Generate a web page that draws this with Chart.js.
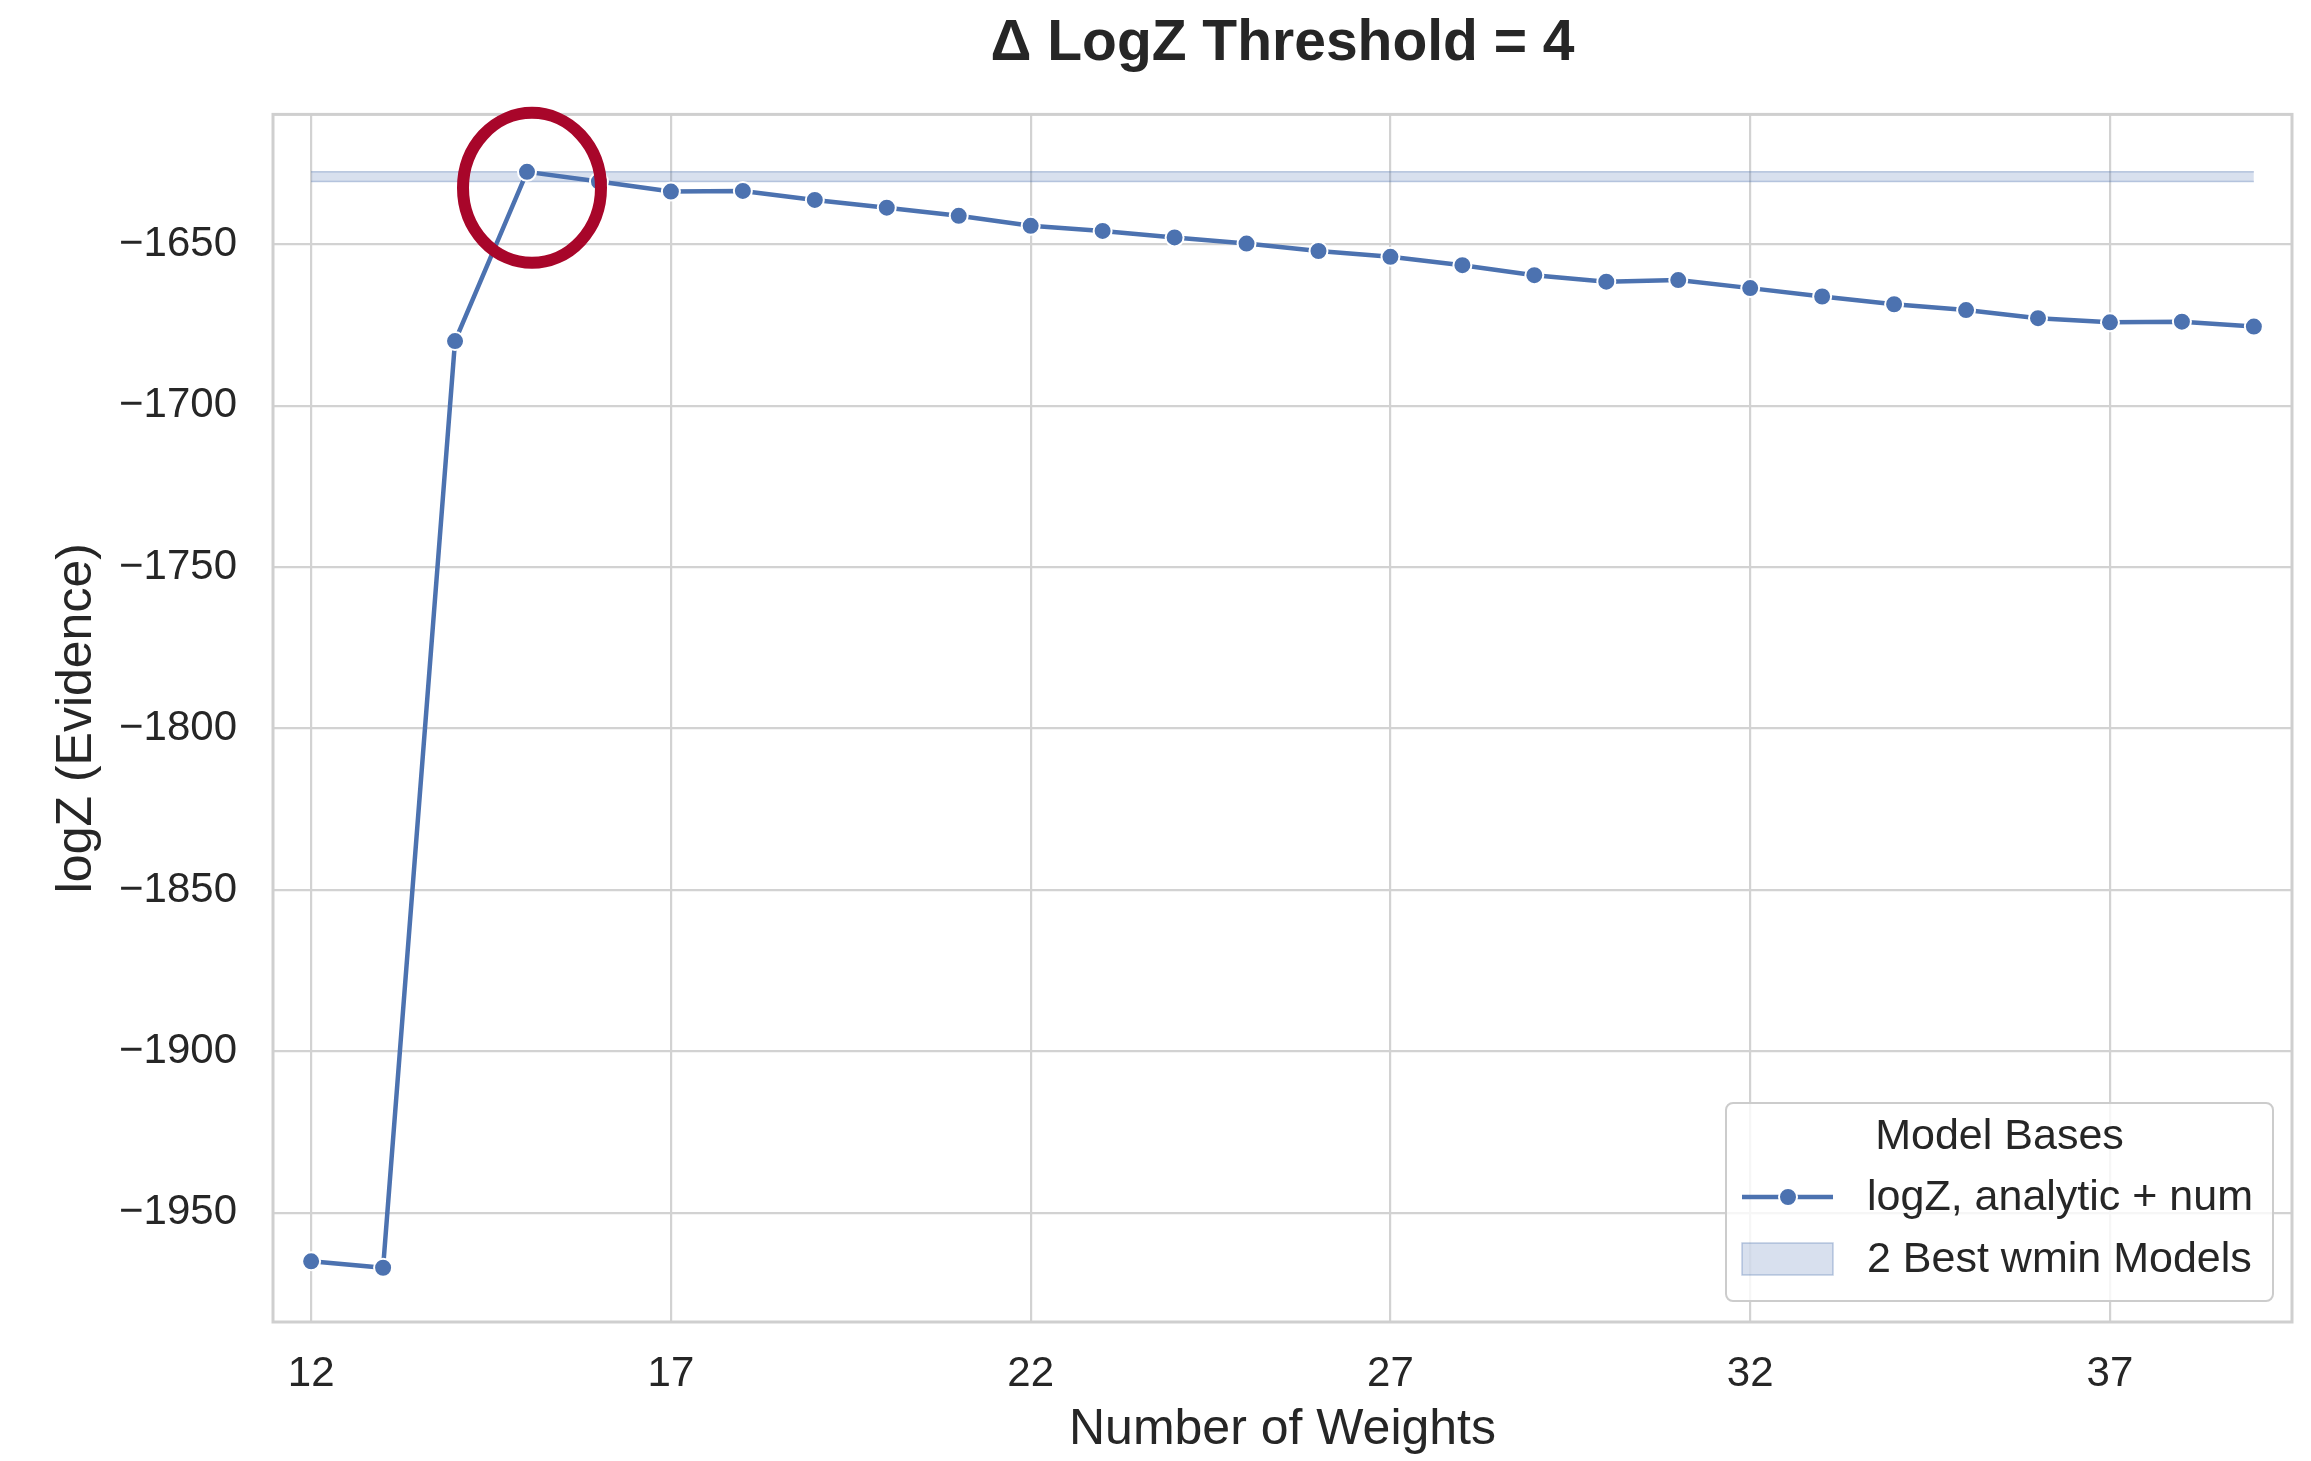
<!DOCTYPE html>
<html>
<head>
<meta charset="utf-8">
<title>Δ LogZ Threshold = 4</title>
<script src="https://cdn.jsdelivr.net/npm/chart.js@4.4.0/dist/chart.umd.min.js"></script>
<style>
  html, body { margin: 0; padding: 0; background: #fff; }
  canvas { display: block; }
</style>
</head>
<body>
<canvas id="evidenceChart" width="2311" height="1461"></canvas>
<script>
// number of weights in each model basis and the evidence it reached
const weights = [12, 13, 14, 15, 16, 17, 18, 19, 20, 21, 22, 23, 24, 25,
                 26, 27, 28, 29, 30, 31, 32, 33, 34, 35, 36, 37, 38, 39];
const logZ = [-1965.0, -1967.0, -1680.0, -1627.6, -1630.6, -1633.7, -1633.5,
              -1636.3, -1638.7, -1641.2, -1644.3, -1645.9, -1647.9, -1649.8,
              -1652.1, -1653.9, -1656.5, -1659.6, -1661.6, -1661.1, -1663.6,
              -1666.2, -1668.6, -1670.4, -1672.9, -1674.2, -1674.0, -1675.5];
const xTicks = [12, 17, 22, 27, 32, 37];
const yTicks = [-1950, -1900, -1850, -1800, -1750, -1700, -1650];

const blue = '#4c72b0';
const bandFill = 'rgba(76, 114, 176, 0.22)';
const bandEdge = 'rgba(76, 114, 176, 0.35)';
const ink = '#262626';
const gridColor = '#d2d2d2';
const family = "'Liberation Sans', Arial, sans-serif";

// band between the two best models, spanning the whole weight range
const best = [...logZ].sort((a, b) => b - a).slice(0, 2);
const bandTop = best[0];
const bandBottom = best[1];
const wFirst = weights[0];
const wLast = weights[weights.length - 1];

const series = weights.map((w, i) => ({ x: w, y: logZ[i] }));

// light frame round the plot, like the seaborn whitegrid spines
const frame = {
  id: 'frame',
  beforeDatasetsDraw(chart) {
    const { ctx, chartArea: a } = chart;
    ctx.save();
    ctx.strokeStyle = '#cfcfcf';
    ctx.lineWidth = 3;
    ctx.strokeRect(a.left, a.top, a.right - a.left, a.bottom - a.top);
    ctx.restore();
  }
};

// red ring drawn round the best model
const ring = {
  id: 'ring',
  afterDatasetsDraw(chart) {
    const meta = chart.getDatasetMeta(0);
    const iBest = logZ.indexOf(Math.max(...logZ));
    const p = meta.data[iBest];
    const { ctx } = chart;
    ctx.save();
    ctx.strokeStyle = '#a8062a';
    ctx.lineWidth = 12;
    ctx.beginPath();
    ctx.ellipse(p.x + 5, p.y + 16, 69, 75, 0, 0, Math.PI * 2);
    ctx.stroke();
    ctx.restore();
  }
};

// boxed legend in the lower right corner of the plot
const boxLegend = {
  id: 'boxLegend',
  afterDraw(chart) {
    const { ctx, chartArea: a } = chart;
    const labels = ['logZ, analytic + num', '2 Best wmin Models'];
    const heading = 'Model Bases';
    ctx.save();
    ctx.font = `43px ${family}`;
    const textW = Math.max(...labels.map(t => ctx.measureText(t).width));
    const w = 141 + textW + 20;
    const h = 198;
    const right = a.right - 19;
    const bottom = a.bottom - 21;
    const left = right - w;
    const top = bottom - h;

    ctx.beginPath();
    ctx.roundRect(left, top, w, h, 7);
    ctx.fillStyle = 'rgba(255, 255, 255, 0.8)';
    ctx.fill();
    ctx.strokeStyle = '#cccccc';
    ctx.lineWidth = 2;
    ctx.stroke();

    ctx.fillStyle = ink;
    ctx.textBaseline = 'middle';
    ctx.textAlign = 'center';
    ctx.fillText(heading, left + w / 2, top + 34);

    ctx.textAlign = 'left';
    ctx.fillText(labels[0], left + 141, top + 95);
    ctx.fillText(labels[1], left + 141, top + 157);

    // line sample with marker
    const ly = top + 94;
    ctx.strokeStyle = blue;
    ctx.lineWidth = 4.5;
    ctx.beginPath();
    ctx.moveTo(left + 16, ly);
    ctx.lineTo(left + 107, ly);
    ctx.stroke();
    ctx.beginPath();
    ctx.arc(left + 62, ly, 9, 0, Math.PI * 2);
    ctx.fillStyle = blue;
    ctx.fill();
    ctx.strokeStyle = '#ffffff';
    ctx.lineWidth = 2;
    ctx.stroke();

    // band swatch
    ctx.fillStyle = bandFill;
    ctx.fillRect(left + 16, top + 140, 91, 32);
    ctx.strokeStyle = bandEdge;
    ctx.lineWidth = 1.5;
    ctx.strokeRect(left + 16, top + 140, 91, 32);
    ctx.restore();
  }
};

new Chart(document.getElementById('evidenceChart'), {
  type: 'line',
  data: {
    datasets: [
      {
        label: 'logZ, analytic + num',
        data: series,
        borderColor: blue,
        borderWidth: 4.5,
        pointRadius: 9,
        pointBackgroundColor: blue,
        pointBorderColor: '#ffffff',
        pointBorderWidth: 2,
        tension: 0,
        fill: false
      },
      {
        label: 'band top',
        data: [{ x: wFirst, y: bandTop }, { x: wLast, y: bandTop }],
        borderColor: bandEdge,
        borderWidth: 1.5,
        pointRadius: 0,
        fill: false
      },
      {
        label: '2 Best wmin Models',
        data: [{ x: wFirst, y: bandBottom }, { x: wLast, y: bandBottom }],
        borderColor: bandEdge,
        borderWidth: 1.5,
        backgroundColor: bandFill,
        pointRadius: 0,
        fill: '-1'
      }
    ]
  },
  options: {
    responsive: false,
    animation: false,
    events: [],
    layout: { padding: { left: 0, right: 19, top: 0, bottom: 0 } },
    scales: {
      x: {
        type: 'linear',
        min: 11.47,
        max: 39.53,
        afterBuildTicks: scale => { scale.ticks = xTicks.map(v => ({ value: v })); },
        afterFit: scale => { scale.height = 139; },
        ticks: {
          padding: 27,
          color: ink,
          font: { family, size: 42 },
          callback: v => String(v)
        },
        grid: { color: gridColor, lineWidth: 2.2, drawTicks: false },
        border: { display: false },
        title: {
          display: true,
          text: 'Number of Weights',
          color: ink,
          font: { family, size: 50 },
          padding: { top: 0, bottom: 1 }
        }
      },
      y: {
        min: -1983.8,
        max: -1609.8,
        afterBuildTicks: scale => { scale.ticks = yTicks.map(v => ({ value: v })); },
        afterFit: scale => { scale.width = 273; },
        ticks: {
          padding: 36,
          color: ink,
          font: { family, size: 42 },
          callback: v => '\u2212' + Math.abs(v)
        },
        grid: { color: gridColor, lineWidth: 2.2, drawTicks: false },
        border: { display: false },
        title: {
          display: true,
          text: 'logZ (Evidence)',
          color: ink,
          font: { family, size: 50 },
          padding: { top: 47, bottom: 0 }
        }
      }
    },
    plugins: {
      legend: { display: false },
      tooltip: { enabled: false },
      title: {
        display: true,
        fullSize: false,
        text: 'Δ LogZ Threshold = 4',
        color: ink,
        font: { family, size: 57, weight: 'bold' },
        padding: { top: 10, bottom: 36 }
      }
    }
  },
  plugins: [frame, ring, boxLegend]
});
</script>
</body>
</html>
